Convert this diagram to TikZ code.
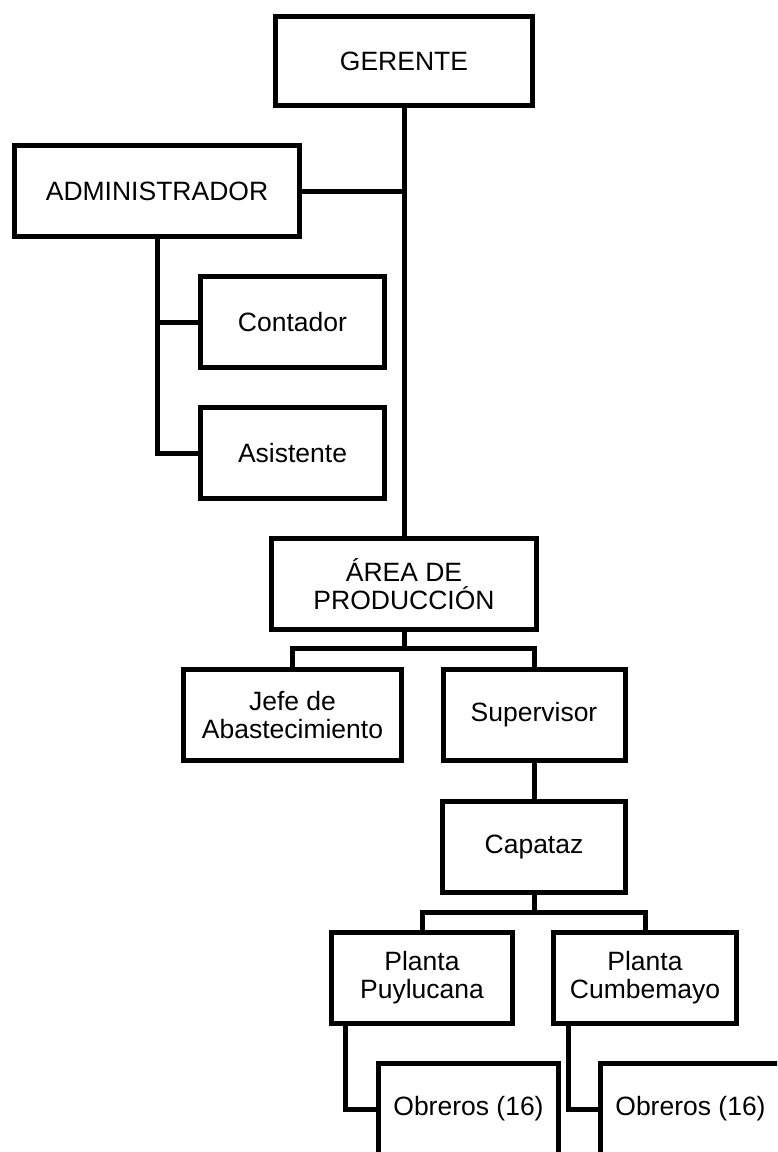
\documentclass[tikz,border=0pt]{standalone}
\usepackage{fontspec}
\setmainfont{Liberation Sans}
\begin{document}
\begin{tikzpicture}[x=1pt,y=-1pt,
  box/.style={draw, line width=5pt, rectangle, inner sep=0pt, align=center,
    minimum height=91pt, font=\fontsize{26.5}{28}\selectfont},
  link/.style={line width=5pt, line join=miter}]
\useasboundingbox (0,0) rectangle (777,1152);
\clip (0,0) rectangle (777,1152);

% boxes
\node[box, minimum width=257pt, minimum height=89pt] (ger) at (404,61) {GERENTE};
\node[box, minimum width=285pt] (adm) at (157,191) {ADMINISTRADOR};
\node[box, minimum width=184pt] (cont) at (292.5,322) {Contador};
\node[box, minimum width=184pt] (asis) at (292.5,453) {Asistente};
\node[box, minimum width=265pt] (area) at (404,584) {ÁREA DE\\PRODUCCIÓN};
\node[box, minimum width=218pt] (jefe) at (292.5,715) {Jefe de\\Abastecimiento};
\node[box, minimum width=182pt] (sup) at (534,715) {Supervisor};
\node[box, minimum width=183pt] (cap) at (534,847) {Capataz};
\node[box, minimum width=181pt] (puy) at (422,978) {Planta\\Puylucana};
\node[box, minimum width=183pt] (cum) at (645,978) {Planta\\Cumbemayo};
\node[box, minimum width=180pt] (obl) at (468.5,1109) {Obreros (16)};
\node[box, minimum width=180pt] (obr) at (690.5,1109) {Obreros (16)};

% junction points
\coordinate (j1) at (404,648);
\coordinate (j2) at (534,912);

% connectors
\draw[link] (ger.south) -- (area.north);
\draw[link] (adm.east) -- (adm.east -| ger.south);
\draw[link] (adm.south) |- (asis.west);
\draw[link] (adm.south |- cont.west) -- (cont.west);
\draw[link] (area.south) -- (j1);
\draw[link] (jefe.north) |- (j1) -| (sup.north);
\draw[link] (sup.south) -- (cap.north);
\draw[link] (cap.south) -- (j2);
\draw[link] (puy.north) |- (j2) -| (cum.north);
\draw[link] ([xshift=16.5pt]puy.south west) |- (obl.west);
\draw[link] ([xshift=17.5pt]cum.south west) |- (obr.west);
\end{tikzpicture}
\end{document}
